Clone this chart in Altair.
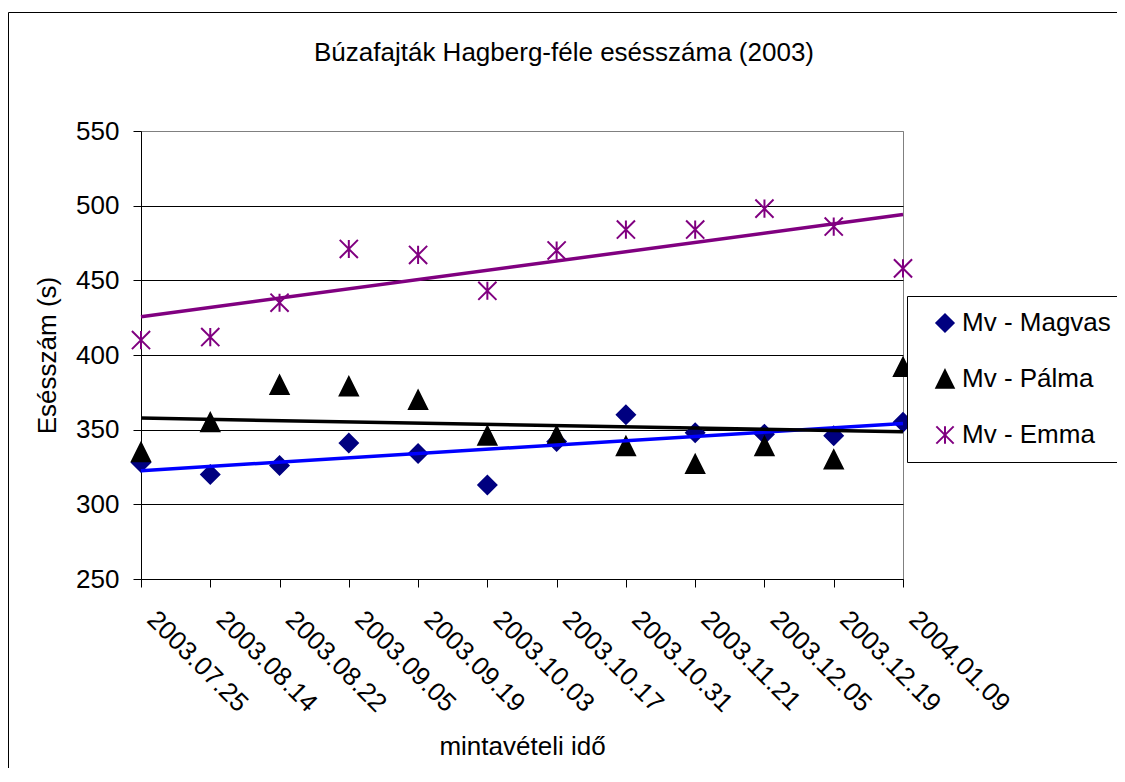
import altair as alt
import pandas as pd

# ---- data ----
dates = ["2003.07.25", "2003.08.14", "2003.08.22", "2003.09.05", "2003.09.19",
         "2003.10.03", "2003.10.17", "2003.10.31", "2003.11.21", "2003.12.05",
         "2003.12.19", "2004.01.09"]
series_names = ["Mv - Magvas", "Mv - Pálma", "Mv - Emma"]
magvas = [328, 320, 326, 341, 334, 313, 342, 360, 348, 347, 346, 355]
palma = [335, 355, 380, 379, 370, 346, 346, 339, 327, 339, 330, 392]
emma = [410, 412, 435, 471, 467, 443, 470, 484, 484, 498, 486, 458]
y_ticks = [250, 300, 350, 400, 450, 500, 550]

# ---- styling ----
marker_colors = ["#000080", "#000000", "#800080"]
trend_colors = ["#0000FF", "#000000", "#800080"]
shapes = ["diamond", "M0,-1L1,1L-1,1Z", "M-1,-1L1,1M-1,1L1,-1M0,-1L0,1"]
FONT = "Liberation Sans"
FS = 26
W, H = 762, 448
PAD_L, PAD_T = 133, 123
SVG_W, SVG_H = 1109, 760

rows = []
for name, vals in zip(series_names, [magvas, palma, emma]):
    for i, (d, v) in enumerate(zip(dates, vals)):
        rows.append({"series": name, "idx": i, "date": d, "value": v})
df = pd.DataFrame(rows)

label_expr = "[" + ",".join("'%s'" % d for d in dates) + "][datum.value]"

x_enc = alt.X(
    "idx:Q",
    scale=alt.Scale(domain=[0, len(dates) - 1], nice=False, zero=False),
    axis=alt.Axis(
        values=list(range(len(dates))), labelExpr=label_expr,
        labelAngle=45, labelAlign="left", labelBaseline="top",
        labelOffset=19, labelPadding=19, tickSize=8,
        labelOverlap=False, labelFlush=False, grid=False,
        title="mintavételi idő", titlePadding=17,
    ),
)
y_enc = alt.Y(
    "value:Q",
    scale=alt.Scale(domain=[250, 550], nice=False, zero=False),
    axis=alt.Axis(
        values=y_ticks, tickSize=8, labelPadding=14,
        labelOverlap=False, labelFlush=False,
        grid=True,
        gridColor={"condition": {"test": "datum.value === 550", "value": "#808080"}, "value": "#000000"},
        title="Esésszám (s)", titlePadding=15,
    ),
)

leg = alt.Legend(
    title=None, orient="none", legendX=766, legendY=165,
    strokeColor="black", fillColor="white", padding=14,
    labelFont=FONT, labelFontSize=FS, labelColor="black", labelLimit=400,
    symbolSize=300, symbolStrokeWidth=2, rowPadding=30,
    labelOffset=4, symbolOffset=11,
)

points = alt.Chart(df).mark_point(filled=True, size=330, strokeWidth=2, opacity=1).encode(
    x=x_enc,
    y=y_enc,
    fill=alt.Fill("series:N", scale=alt.Scale(domain=series_names, range=marker_colors), legend=leg),
    stroke=alt.Stroke("series:N", scale=alt.Scale(domain=series_names, range=marker_colors), legend=leg),
    shape=alt.Shape("series:N", scale=alt.Scale(domain=series_names, range=shapes), legend=leg),
)

trend = alt.Chart(df).transform_regression(
    "idx", "value", groupby=["series"]
).mark_line(strokeWidth=3.5).encode(
    x=x_enc,
    y=y_enc,
    color=alt.Color("series:N", scale=alt.Scale(domain=series_names, range=trend_colors), legend=None),
)

frame_df = pd.DataFrame({"k": [0]})
border_top = alt.Chart(frame_df).mark_rule(color="black", strokeWidth=1).encode(
    x=alt.value(-132.5), x2=alt.value(W + 400), y=alt.value(-118.5),
)
border_left = alt.Chart(frame_df).mark_rule(color="black", strokeWidth=1).encode(
    x=alt.value(-132.5), y=alt.value(-118.5), y2=alt.value(H + 400),
)

chart = alt.layer(border_top, border_left, points, trend).properties(
    width=W, height=H,
    autosize="none",
    padding={"left": PAD_L, "top": PAD_T, "right": SVG_W - PAD_L - W, "bottom": SVG_H - PAD_T - H},
    title=alt.Title(
        "Búzafajták Hagberg-féle esésszáma (2003)",
        fontSize=FS, font=FONT, fontWeight="normal", color="black",
        anchor="middle", frame="group", dx=42, offset=-54,
    ),
).configure(
    font=FONT, background="white"
).configure_view(
    stroke="#808080", strokeWidth=1
).configure_axis(
    labelFont=FONT, titleFont=FONT, labelFontSize=FS, titleFontSize=FS,
    labelColor="black", titleColor="black", titleFontWeight="normal",
    domainColor="black", tickColor="black", domainWidth=1, tickWidth=1, gridWidth=1,
)

chart.save("out.html", embed_options={"renderer": "svg", "actions": False})
